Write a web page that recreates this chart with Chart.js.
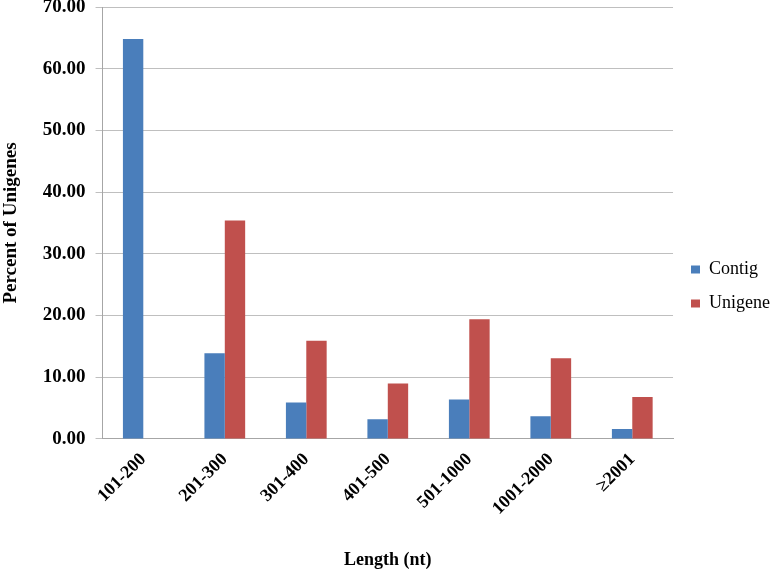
<!DOCTYPE html>
<html>
<head>
<meta charset="utf-8">
<script src="https://cdn.jsdelivr.net/npm/chart.js@4"></script>
<style>
  body { margin: 0; background: #fff; }
  #wrap { width: 770px; height: 573px; }
</style>
</head>
<body>
<div id="wrap"><canvas id="lenChart" width="770" height="573"></canvas></div>
<script>
const categories = ["101-200", "201-300", "301-400", "401-500", "501-1000", "1001-2000", "\u22652001"];
const contigValues = [64.8, 13.9, 5.9, 3.2, 6.4, 3.7, 1.6];
const unigeneValues = [0, 35.4, 15.9, 9.0, 19.4, 13.1, 6.8];
const yTicks = { min: 0, max: 70, step: 10 };

const serif = "'Liberation Serif', 'Times New Roman', serif";

const ctx = document.getElementById("lenChart").getContext("2d");
new Chart(ctx, {
  type: "bar",
  data: {
    labels: categories,
    datasets: [
      {
        label: "Contig",
        data: contigValues,
        backgroundColor: "#4a7ebb",
        categoryPercentage: 0.5,
        barPercentage: 1.0,
      },
      {
        label: "Unigene",
        data: unigeneValues,
        backgroundColor: "#c0504d",
        categoryPercentage: 0.5,
        barPercentage: 1.0,
      },
    ],
  },
  options: {
    responsive: false,
    animation: false,
    layout: { padding: { top: 0, right: -10, left: 0, bottom: 0 } },
    plugins: {
      legend: {
        position: "right",
        labels: {
          color: "#000",
          font: { family: serif, size: 18 },
          boxWidth: 9,
          boxHeight: 8,
          padding: 16,
        },
      },
      tooltip: { enabled: false },
    },
    scales: {
      x: {
        grid: { display: false, drawTicks: false },
        border: { color: "#a6a6a6" },
        ticks: {
          color: "#000",
          font: { family: serif, size: 18, weight: "bold" },
          minRotation: 45,
          maxRotation: 45,
          padding: 10,
        },
        title: {
          display: true,
          text: "Length (nt)",
          color: "#000",
          font: { family: serif, size: 18, weight: "bold" },
          padding: { top: 20, bottom: 2 },
        },
      },
      y: {
        min: yTicks.min,
        max: yTicks.max,
        grid: { color: "#bfbfbf", tickLength: 7 },
        border: { color: "#a6a6a6" },
        ticks: {
          stepSize: yTicks.step,
          color: "#000",
          font: { family: serif, size: 19, weight: "bold" },
          padding: 10,
          callback: (v) => v.toFixed(2),
        },
        title: {
          display: true,
          text: "Percent of Unigenes",
          color: "#000",
          font: { family: serif, size: 19, weight: "bold" },
          padding: { top: 0, bottom: 10 },
        },
        afterFit: (scale) => {
          scale.paddingTop = 7;
        },
      },
      // empty spacer between the plot and the legend
      gap: {
        type: "linear",
        position: "right",
        grid: { display: false, drawTicks: false },
        border: { display: false },
        ticks: { display: false },
        afterFit: (scale) => {
          scale.width = 2;
          scale.paddingTop = 0;
          scale.paddingBottom = 0;
        },
      },
    },
  },
});
</script>
</body>
</html>
